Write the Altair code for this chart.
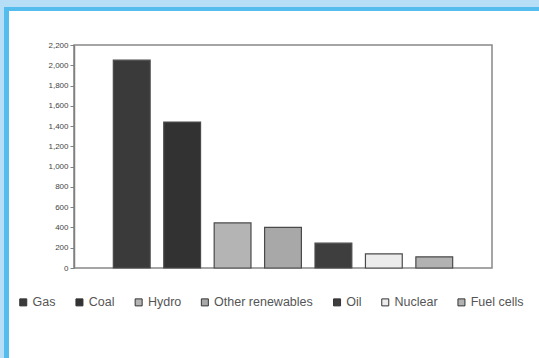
import altair as alt
import pandas as pd

# ---- data ----
sources = ["Gas", "Coal", "Hydro", "Other renewables", "Oil", "Nuclear", "Fuel cells"]
capacity = [2050, 1440, 445, 400, 245, 140, 110]
y_ticks = [0, 200, 400, 600, 800, 1000, 1200, 1400, 1600, 1800, 2000, 2200]
colors = ["#3a3a3a", "#323232", "#b4b4b4", "#a8a8a8", "#3e3e3e", "#ececec", "#b2b2b2"]

df = pd.DataFrame({"source": sources, "capacity": capacity})

W, H = 418, 223
PL, PT = 74, 45
TOTAL_W, TOTAL_H = 539, 358

one = pd.DataFrame({"a": [0]})

def frame_rect(x0, x1, y0, y1, color):
    return alt.Chart(one).mark_rect(color=color, opacity=1).encode(
        x=alt.value(x0 - PL), x2=alt.value(x1 - PL),
        y=alt.value(y0 - PT), y2=alt.value(y1 - PT),
    )

light = "#b7def7"
bright = "#55bdee"
frame = [
    frame_rect(0, TOTAL_W, 0, 7, light),
    frame_rect(0, 4, 0, TOTAL_H, light),
    frame_rect(4, TOTAL_W, 7, 11, bright),
    frame_rect(4, 9, 7, TOTAL_H, bright),
]

bars = alt.Chart(df).mark_bar(stroke="#4a4a4a", strokeWidth=1.2).encode(
    x=alt.X("source:N", sort=sources, axis=None,
            scale=alt.Scale(paddingInner=0.27, paddingOuter=0.78)),
    y=alt.Y("capacity:Q",
            scale=alt.Scale(domain=[0, 2200], nice=False),
            axis=alt.Axis(values=y_ticks, format=",.0f", title=None, grid=False,
                          labelFontSize=8, labelColor="#444444", labelFont="Liberation Sans",
                          tickSize=4, tickColor="#808080", domainColor="#808080",
                          domainWidth=1.5, labelPadding=2)),
    color=alt.Color("source:N", sort=sources,
                    scale=alt.Scale(domain=sources, range=colors),
                    legend=alt.Legend(orient="none", direction="horizontal", columns=7,
                                      legendX=17 - PL, legendY=296 - PT, padding=0,
                                      title=None, symbolType="square", symbolSize=49,
                                      symbolStrokeColor="#333333", symbolStrokeWidth=1,
                                      labelFontSize=12.5, labelFont="Liberation Sans",
                                      labelColor="#555555", columnPadding=17.2,
                                      labelOffset=3, labelLimit=0)),
)

chart = alt.layer(*frame, bars).properties(
    width=W, height=H,
    autosize=alt.AutoSizeParams(type="none"),
    padding={"left": PL, "top": PT, "right": TOTAL_W - PL - W, "bottom": TOTAL_H - PT - H},
    background="white",
).configure_view(stroke="#888888", strokeWidth=1.5)

chart.save("out.html", embed_options={"renderer": "svg", "actions": False})
